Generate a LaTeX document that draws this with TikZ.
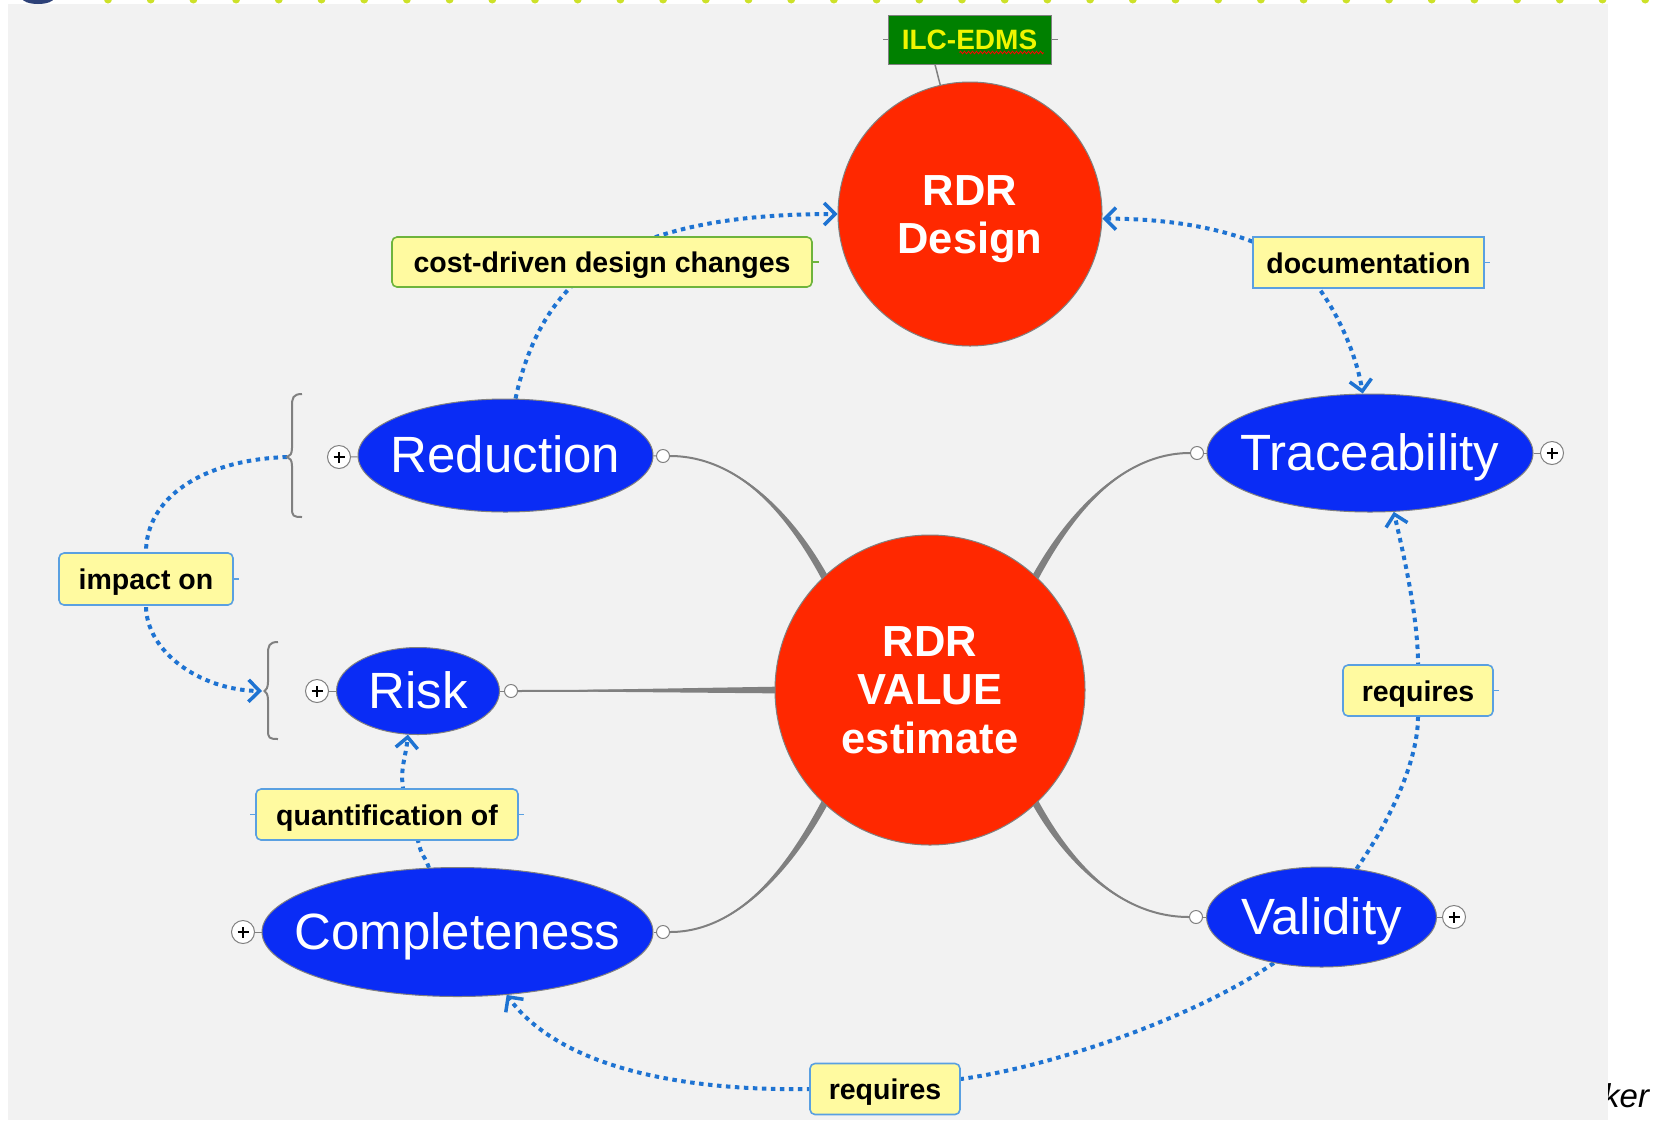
\documentclass[tikz,border=0pt]{standalone}
\usepackage{fontspec}
\setmainfont{Liberation Sans}
\usetikzlibrary{shapes.geometric, arrows.meta, calc, decorations.pathmorphing}
\pgfdeclarelayer{bg}
\pgfdeclarelayer{edges}
\pgfsetlayers{bg,edges,main}
\definecolor{bggray}{RGB}{242,242,242}
\definecolor{rdrred}{RGB}{255,40,0}
\definecolor{topicblue}{RGB}{10,44,245}
\definecolor{labyellow}{RGB}{255,250,160}
\definecolor{labblue}{RGB}{90,160,225}
\definecolor{labgreen}{RGB}{110,180,60}
\definecolor{relblue}{RGB}{30,115,210}
\definecolor{conngray}{RGB}{128,128,128}
\definecolor{ilcgreen}{RGB}{0,128,0}
\definecolor{ilcyellow}{RGB}{240,245,0}
\definecolor{dotgreen}{RGB}{205,225,40}
\definecolor{navyblob}{RGB}{45,65,120}
\begin{document}
\begin{tikzpicture}[x=1pt, y=-1pt,
  bigcirc/.style={circle, draw=conngray, line width=1pt, fill=rdrred, inner sep=0pt},
  circtext/.style={text=white, align=center, inner sep=0pt, font=\bfseries\fontsize{43.5}{48.5}\selectfont},
  topic/.style={ellipse, draw=conngray, line width=1pt, fill=topicblue, inner sep=0pt},
  topictext/.style={anchor=base, text=white, inner sep=0pt, font=\fontsize{51}{55}\selectfont},
  opn/.style={circle, draw=conngray, fill=white, line width=1pt, minimum size=13pt, inner sep=0pt},
  plusc/.style={circle, draw=conngray, fill=white, line width=1pt, minimum size=23pt, inner sep=0pt,
    path picture={\draw[black, line width=1.3pt] ([xshift=-5.5pt]path picture bounding box.center) -- ([xshift=5.5pt]path picture bounding box.center) ([yshift=-5.5pt]path picture bounding box.center) -- ([yshift=5.5pt]path picture bounding box.center);}},
  lab/.style={draw=labblue, fill=labyellow, line width=1.6pt, rounded corners=5pt, inner sep=0pt, minimum height=51pt, text height=21pt, text depth=0pt, font=\bfseries\fontsize{28.5}{30}\selectfont},
  ilcbox/.style={draw=conngray, fill=ilcgreen, line width=1pt, text=ilcyellow, inner sep=0pt, minimum width=163pt, minimum height=49pt, text height=20pt, text depth=0pt, font=\bfseries\fontsize{28}{30}\selectfont},
  rel/.style={draw=relblue, line width=4pt, dash pattern=on 4.5pt off 4.5pt},
  headend/.style={-{Straight Barb[length=11pt, width=22pt, line width=3.5pt]}},
  headboth/.style={{Straight Barb[length=11pt, width=22pt, line width=3.5pt]}-{Straight Barb[length=11pt, width=22pt, line width=3.5pt]}},
  stub/.style={draw=conngray, line width=1pt},
  labstub/.style={draw=labblue, line width=1.2pt},
  brace/.style={draw=conngray, line width=2pt},
  thinline/.style={draw=conngray, line width=2pt}
]
\useasboundingbox (0,0) rectangle (1661,1120);

\begin{pgfonlayer}{bg}
  \fill[white] (0,0) rectangle (1661,1120);
  \fill[bggray] (8,4) rectangle (1608,1120);
  \foreach \i in {0,...,36} \fill[dotgreen] ({108+42.7*\i},-0.5) circle (4pt);
  \fill[navyblob] (38,-2) ellipse (16pt and 6pt);
\end{pgfonlayer}

\begin{scope}
  \clip (1608,1030) rectangle (1661,1120);
  \node[anchor=base west, inner sep=0pt, font=\itshape\fontsize{33}{36}\selectfont] (ker) at (1603,1107) {ker};
\end{scope}

% central circles
\node[bigcirc, minimum size=264pt] (design) at (970,214) {};
\node[circtext] (designT) at ($(design.center)+(0,5)$) {RDR\\Design};
\node[bigcirc, minimum size=310pt] (value) at (930,690) {};
\node[circtext] (valueT) at ($(value.center)+(0,0)$) {RDR\\VALUE\\estimate};
\node[ilcbox] (ilc) at (969.5,39.5) {ILC-EDMS};

% topics
\node[topic, minimum width=295pt, minimum height=113pt] (red) at (505.5,455.5) {};
\node[topictext] (redT) at ($(red.center)+(0,17)$) {Reduction};
\node[topic, minimum width=326pt, minimum height=118pt] (trace) at (1370,453) {};
\node[topictext] (traceT) at ($(trace.center)+(0,17)$) {Traceability};
\node[topic, minimum width=163pt, minimum height=87pt] (risk) at (418,691) {};
\node[topictext] (riskT) at ($(risk.center)+(0,17)$) {Risk};
\node[topic, minimum width=391pt, minimum height=129pt] (comp) at (457.5,932) {};
\node[topictext] (compT) at ($(comp.center)+(0,17)$) {Completeness};
\node[topic, minimum width=230pt, minimum height=100pt] (val) at (1321.5,917) {};
\node[topictext] (valT) at ($(val.center)+(0,17)$) {Validity};

% small circles
\node[opn] (redO) at (663,456) {};
\node[plusc] (redP) at (339,457) {};
\node[opn] (traceO) at (1197,453) {};
\node[plusc] (traceP) at (1552,453) {};
\node[opn] (riskO) at (511,691) {};
\node[plusc] (riskP) at (317,691) {};
\node[opn] (compO) at (663,932) {};
\node[plusc] (compP) at (243,932) {};
\node[opn] (valO) at (1196,917) {};
\node[plusc] (valP) at (1454,917) {};

% labels
\node[lab, draw=labgreen, minimum width=420pt, minimum height=50pt] (cost) at (602,262) {cost-driven design changes};
\node[lab, sharp corners, minimum width=231pt] (doc) at (1368.5,262.5) {documentation};
\node[lab, minimum width=174pt, minimum height=52pt] (impact) at (146,579) {impact on};
\node[lab, minimum width=150pt] (req1) at (1418,690.5) {requires};
\node[lab, minimum width=262pt] (quant) at (387,814.5) {quantification of};
\node[lab, minimum width=150pt] (req2) at (885,1089) {requires};

% braces
\coordinate (rBrace) at (287,457);
\coordinate (kBrace) at (262,691);
\draw[brace] (302,394) .. controls (293,394) and (292,398) .. (292,406) -- (292,448) .. controls (292,454) and (290,456) .. (rBrace) .. controls (290,458) and (292,460) .. (292,466) -- (292,508) .. controls (292,516) and (293,517) .. (302,517);
\draw[brace] (278,642) .. controls (269,642) and (268,646) .. (268,654) -- (268,682) .. controls (268,688) and (266,690) .. (264.5,691) .. controls (266,692) and (268,694) .. (268,700) -- (268,730) .. controls (268,738) and (269,739) .. (278,739);

% spell-check squiggle
\draw[red, line width=0.8pt, decorate, decoration={zigzag, amplitude=1.3pt, segment length=4pt}] ($(ilc.center)+(-10,13)$) -- ($(ilc.center)+(74,13)$);

\begin{pgfonlayer}{edges}
  % ILC link and stubs
  \draw[conngray, line width=1.5pt] ($(ilc.south)+(-34.5,0)$) -- (design.103);
  \draw[stub] (ilc.west) -- ++(-5,0);
  \draw[stub] (ilc.east) -- ++(6,0);
  \draw[stub] (redP) -- (red);
  \draw[stub] (traceP) -- (trace);
  \draw[stub] (riskP) -- (risk);
  \draw[stub] (compP) -- (comp);
  \draw[stub] (valP) -- (val);
  \draw[stub] (redO) -- (red);
  \draw[stub] (traceO) -- (trace);
  \draw[stub] (riskO) -- (risk);
  \draw[stub] (compO) -- (comp);
  \draw[stub] (valO) -- (val);
  \draw[draw=labgreen, line width=1.2pt] (cost.east) -- ++(6,0);
  \draw[labstub] (doc.east) -- ++(5,0);
  \draw[labstub] (impact.east) -- ++(5,0);
  \draw[labstub] (req1.east) -- ++(5,0);
  \draw[labstub] (quant.east) -- ++(5,0);
  \draw[labstub] (quant.west) -- ++(-5,0);

  % tapered gray connectors
  \coordinate (eRed) at ($(value.133)+(5,9)$);
  \fill[conngray] (redO.east) .. controls +(80,0) and +(-25,-48) .. ($(eRed)+(3.1,-1.6)$) -- ($(eRed)+(-3.1,1.6)$) .. controls +(-25,-48) and +(80,0) .. (redO.east) -- cycle;
  \draw[thinline] (redO.east) .. controls +(80,0) and +(-25,-48) .. (eRed);

  \coordinate (eComp) at ($(value.227)+(5,-9)$);
  \fill[conngray] (compO.east) .. controls +(80,0) and +(-25,48) .. ($(eComp)+(3.1,1.6)$) -- ($(eComp)+(-3.1,-1.6)$) .. controls +(-25,48) and +(80,0) .. (compO.east) -- cycle;
  \draw[thinline] (compO.east) .. controls +(80,0) and +(-25,48) .. (eComp);

  \coordinate (eTrace) at ($(value.47)+(-5,9)$);
  \fill[conngray] (traceO.west) .. controls +(-80,0) and +(25,-48) .. ($(eTrace)+(3.1,1.6)$) -- ($(eTrace)+(-3.1,-1.6)$) .. controls +(25,-48) and +(-80,0) .. (traceO.west) -- cycle;
  \draw[thinline] (traceO.west) .. controls +(-80,0) and +(25,-48) .. (eTrace);

  \coordinate (eVal) at ($(value.313)+(-5,-9)$);
  \fill[conngray] (valO.west) .. controls +(-80,0) and +(25,48) .. ($(eVal)+(3.1,-1.6)$) -- ($(eVal)+(-3.1,1.6)$) .. controls +(25,48) and +(-80,0) .. (valO.west) -- cycle;
  \draw[thinline] (valO.west) .. controls +(-80,0) and +(25,48) .. (eVal);

  \fill[conngray] (riskO.east) -- ($(value.180)+(6,-3.4)$) -- ($(value.180)+(6,3.4)$) -- cycle;
  \draw[thinline] (riskO.east) -- ($(value.180)+(6,0)$);

  % dotted relationship arrows
  \draw[rel, headend] (red.80) .. controls +(15,-70) and +(-40,25) .. (cost.center) .. controls +(60,-38) and +(-90,0) .. (design.west);
  \draw[rel, headboth] (design.-2) .. controls +(80,0) and +(-45,-30) .. ($(doc.center)+(-75,0)$) .. controls +(30,20) and +(-8,-50) .. (trace.97);
  \draw[rel, headend] (rBrace) .. controls +(-87,3) and +(0,-53) .. (impact.north) -- (impact.south) .. controls +(0,45) and +(-63,-1) .. (kBrace);
  \draw[rel, headend] (val.54) .. controls +(34,-49) and +(0,44) .. (req1.south) -- (req1.north) .. controls +(0,-50) and +(8,35) .. (trace.-68);
  \draw[rel, headend] (val.-136) .. controls +(-80,55) and +(90,-12) .. ($(req2.east)+(0,-10)$) -- (req2.west) .. controls +(-120,2) and +(55,75) .. (comp.-52);
  \draw[rel, headend] (comp.114) .. controls +(-5,-15) and +(5,20) .. ($(quant.south)+(31,0)$) -- ($(quant.north)+(16,0)$) .. controls +(-3,-20) and +(-2,22) .. (risk.-103);
\end{pgfonlayer}
\end{tikzpicture}
\end{document}
